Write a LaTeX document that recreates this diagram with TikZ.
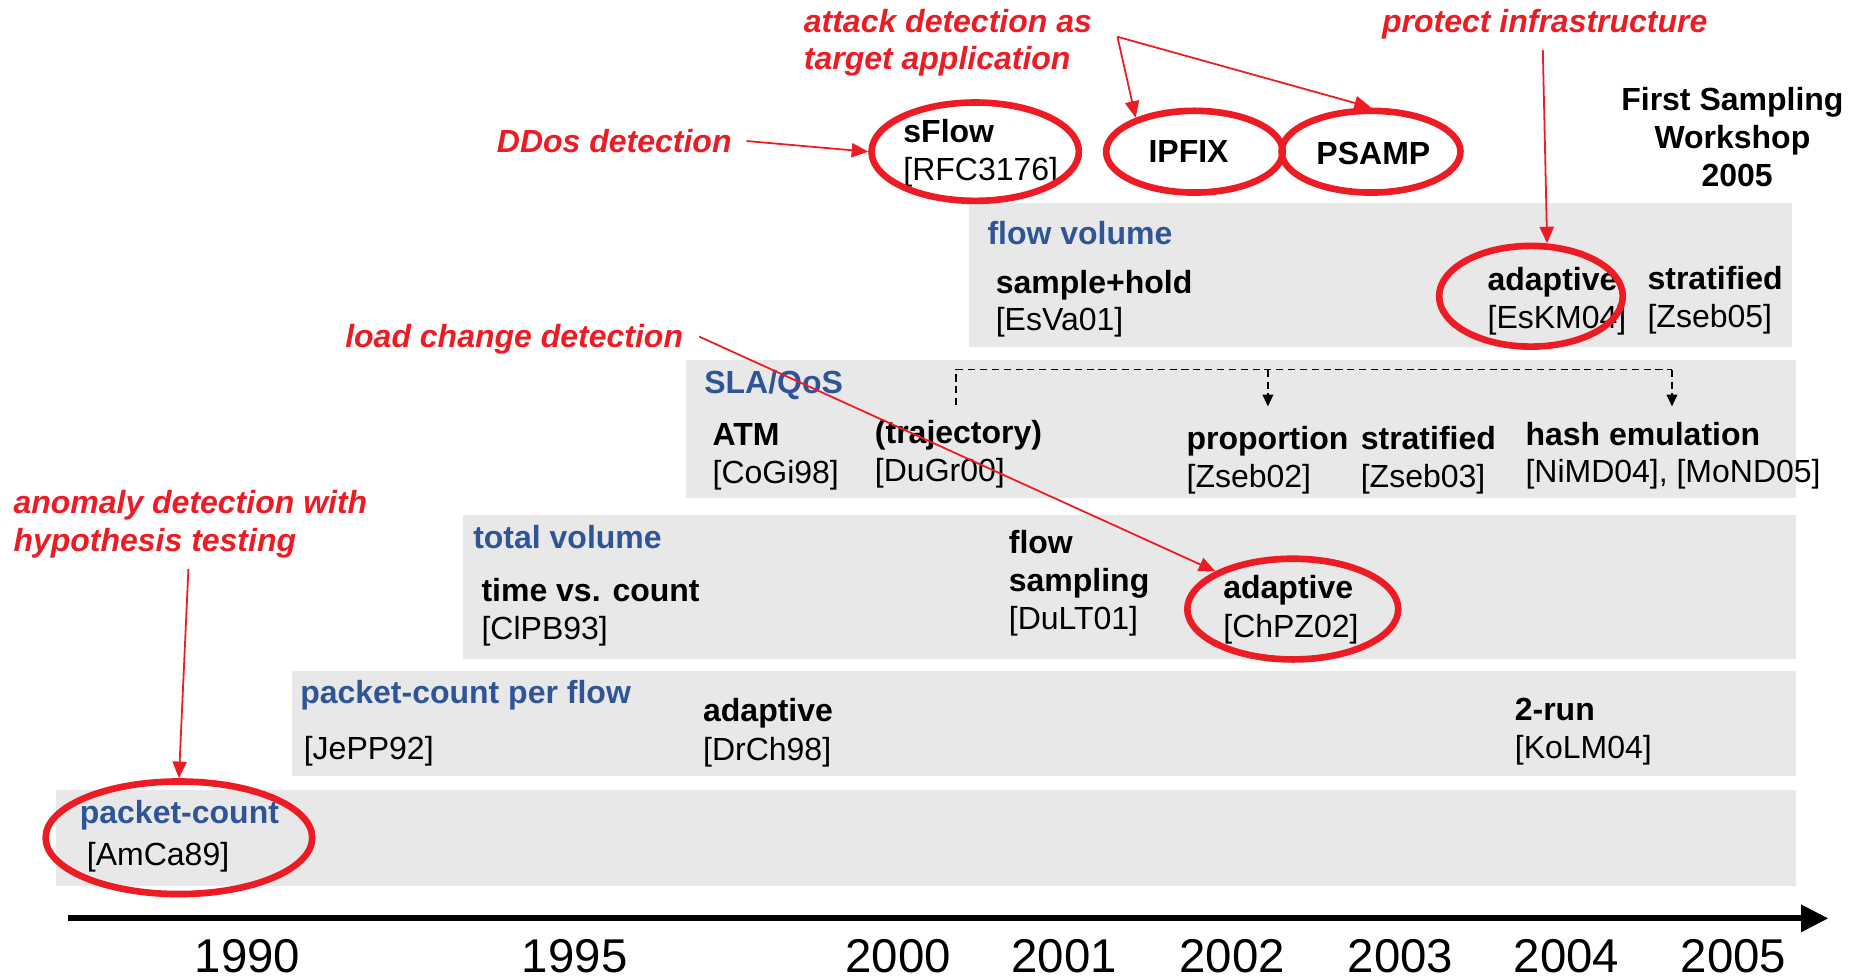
\documentclass[tikz,border=0pt]{standalone}
\usepackage{fontspec}
\setmainfont{Liberation Sans}
\usetikzlibrary{arrows.meta,shapes.geometric}
\definecolor{bandgray}{HTML}{E8E8E8}
\definecolor{lblue}{HTML}{2F5597}
\definecolor{ared}{HTML}{ED1C24}
\begin{document}
\begin{tikzpicture}[x=0.5pt,y=-0.5pt,
  txt/.style={inner sep=0pt, font=\fontsize{13.5}{16}\selectfont, anchor=base west},
  bold/.style={txt, font=\fontsize{13.5}{16}\selectfont\bfseries},
  cat/.style={bold, text=lblue},
  note/.style={txt, font=\fontsize{13.5}{16}\selectfont\bfseries\itshape, text=ared},
  year/.style={inner sep=0pt, text depth=0pt, font=\fontsize{20}{24}\selectfont, anchor=base},
  band/.style={fill=bandgray, draw=none},
  ring/.style={ellipse, draw=ared, line width=2.8pt, inner sep=0pt},
  redarrow/.style={draw=ared, line width=0.75pt, -{Triangle[length=7pt,width=6pt]}},
  dashline/.style={draw=black, line width=0.65pt, dash pattern=on 3pt off 2pt},
  dasharrow/.style={dashline, -{Triangle[length=5pt,width=4.5pt]}},
]
\useasboundingbox (0,0) rectangle (1568,827);

% bands
\fill[band] (47,667) rectangle (1516,748);
\fill[band] (246,566) rectangle (1516,655);
\fill[band] (391,435) rectangle (1516,556);
\fill[band] (579,304) rectangle (1516,420);
\fill[band] (818,171) rectangle (1512,293);

% axis
\coordinate (axS) at (57,775);
\coordinate (axE) at (1543,775);
\draw[line width=2.5pt, -{Triangle[length=11.5pt,width=11pt]}] (axS) -- (axE);
\node[year] (y1990) at (209,821) {1990};
\node[year] (y1995) at (485,821) {1995};
\node[year] (y2000) at (758,821) {2000};
\node[year] (y2001) at (898,821) {2001};
\node[year] (y2002) at (1040,821) {2002};
\node[year] (y2003) at (1182,821) {2003};
\node[year] (y2004) at (1322,821) {2004};
\node[year] (y2005) at (1463,821) {2005};

% packet-count band
\node[cat] (pc) at (67,695) {packet-count};
\node[txt] (pcref) at (73,730) {[AmCa89]};
% packet-count per flow band
\node[cat] (pcf) at (253,594) {packet-count per flow};
\node[txt] (jepp) at (256,641) {[JePP92]};
\node[bold] (adapt98) at (593,609) {adaptive};
\node[txt] (drch) at (593,642) {[DrCh98]};
\node[bold] (tworun) at (1278,608) {2-run};
\node[txt] (kolm) at (1278,640) {[KoLM04]};
% total volume band
\node[cat] (tv) at (399,463) {total volume};
\node[bold] (tvc) at (406,508) {time vs. count};
\node[txt] (clpb) at (406,540) {[ClPB93]};
\node[bold] (flowA) at (851,467) {flow};
\node[bold] (flowB) at (851,499) {sampling};
\node[txt] (dult) at (851,531) {[DuLT01]};
\node[bold] (adapt02) at (1032,505) {adaptive};
\node[txt] (chpz) at (1032,538) {[ChPZ02]};
% SLA/QoS band
\node[cat] (sla) at (594,332) {SLA/QoS};
\node[bold] (atm) at (601,376) {ATM};
\node[txt] (cogi) at (601,408) {[CoGi98]};
\node[bold] (traj) at (738,374) {(trajectory)};
\node[txt] (dugr) at (738,406) {[DuGr00]};
\node[bold] (prop) at (1001,379) {proportion};
\node[txt] (zs02) at (1001,411) {[Zseb02]};
\node[bold] (strat03) at (1148,379) {stratified};
\node[txt] (zs03) at (1148,411) {[Zseb03]};
\node[bold] (hash) at (1287,376) {hash emulation};
\node[txt] (nimd) at (1287,407) {[NiMD04], [MoND05]};
% flow volume band
\node[cat] (fv) at (833,206) {flow volume};
\node[bold] (sh) at (840,248) {sample+hold};
\node[txt] (esva) at (840,279) {[EsVa01]};
\node[bold] (adapt04) at (1255,245) {adaptive};
\node[txt] (eskm) at (1255,277) {[EsKM04]};
\node[bold] (strat05) at (1390,244) {stratified};
\node[txt] (zs05) at (1390,276) {[Zseb05]};
% top items
\node[bold, anchor=base] (fs1) at (1462,93) {First Sampling};
\node[bold, anchor=base] (fs2) at (1462,125) {Workshop};
\node[bold, anchor=base] (fs3) at (1466,157) {2005};
\node[bold] (sflow) at (762,120) {sFlow};
\node[txt] (rfc) at (762,152) {[RFC3176]};
\node[bold, anchor=base] (ipfix) at (1003,137) {IPFIX};
\node[bold, anchor=base] (psamp) at (1159,139) {PSAMP};

% dashed connector
\coordinate (dA) at (807,342);
\coordinate (dB) at (807,312);
\coordinate (dC) at (1411,312);
\coordinate (dD) at (1411,343);
\coordinate (dM) at (1070,312);
\coordinate (dN) at (1070,343);
\draw[dashline] (dA) -- (dB) -- (dC);
\draw[dasharrow] (dC) -- (dD);
\draw[dasharrow] (dM) -- (dN);

% red notes
\node[note] (attack1) at (678,27) {attack detection as};
\node[note] (attack2) at (678,59) {target application};
\node[note] (protect) at (1166,27) {protect infrastructure};
\node[note] (ddos) at (419,129) {DDos detection};
\node[note] (load) at (291,293) {load change detection};
\node[note] (anom1) at (11,433) {anomaly detection with};
\node[note] (anom2) at (11,465) {hypothesis testing};

% red rings
\node[ring, minimum width=87.5pt, minimum height=41.5pt] (sflowE) at (823,128) {};
\node[ring, minimum width=74.5pt, minimum height=34.5pt] (ipfixE) at (1008,128) {};
\node[ring, minimum width=75.5pt, minimum height=34.5pt] (psampE) at (1157,128) {};
\node[ring, minimum width=77.5pt, minimum height=42.5pt] (eskmE) at (1292,250) {};
\node[ring, minimum width=89pt, minimum height=42.5pt] (chpzE) at (1091,514) {};
\node[ring, minimum width=112.5pt, minimum height=47.5pt] (pcE) at (151,707) {};

% red arrows
\coordinate (ddosS) at (630,119);
\coordinate (attackS) at (943,31);
\coordinate (protectS) at (1302,42);
\coordinate (loadS) at (590,284);
\coordinate (anomS) at (159,480);
\draw[redarrow] (ddosS) -- (sflowE.west);
\draw[redarrow] (attackS) -- (ipfixE.150);
\draw[redarrow] (attackS) -- (psampE.north);
\draw[redarrow] (protectS) -- (eskmE.73);
\draw[redarrow] (loadS) -- (chpzE.154);
\draw[redarrow] (anomS) -- (pcE.north);
\end{tikzpicture}
\end{document}
